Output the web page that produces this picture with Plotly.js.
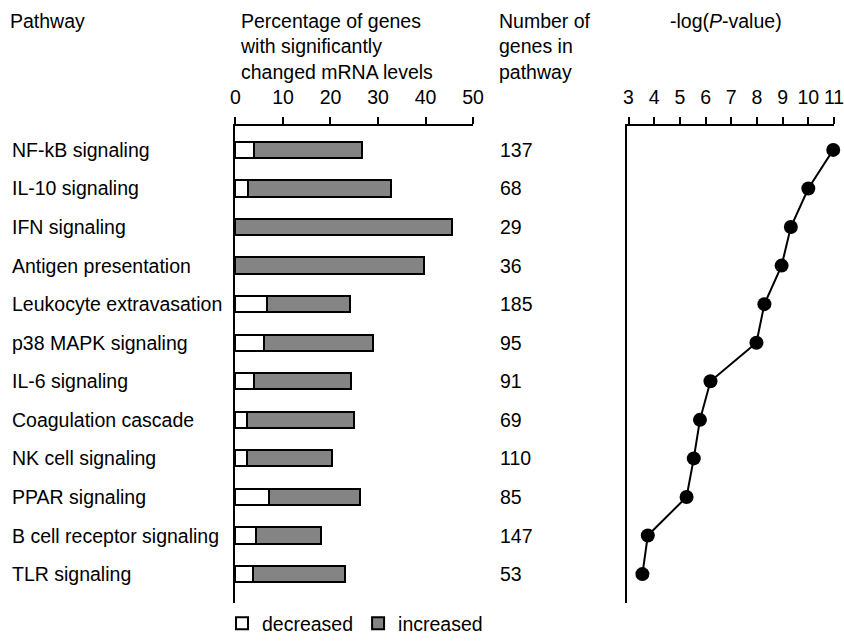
<!DOCTYPE html>
<html>
<head>
<meta charset="utf-8">
<script src="https://cdn.plot.ly/plotly-3.0.1.min.js"></script>
<style>html,body{margin:0;padding:0;background:#fff;}#chart{width:844px;height:643px;}</style>
</head>
<body>
<div id="chart"></div>
<script>
const pathways = ["NF-kB signaling","IL-10 signaling","IFN signaling","Antigen presentation","Leukocyte extravasation","p38 MAPK signaling","IL-6 signaling","Coagulation cascade","NK cell signaling","PPAR signaling","B cell receptor signaling","TLR signaling"];
const decreased = [4.0, 2.6, 0, 0, 6.7, 6.0, 4.0, 2.5, 2.5, 7.0, 4.4, 3.7];
const increased = [22.6, 30.2, 45.6, 39.7, 17.5, 23.0, 20.3, 22.5, 17.8, 19.3, 13.5, 19.3];
const geneCounts = [137, 68, 29, 36, 185, 95, 91, 69, 110, 85, 147, 53];
const negLogP = [10.97, 10.0, 9.32, 8.96, 8.29, 7.98, 6.19, 5.78, 5.54, 5.26, 3.75, 3.54];
const pctTicks = [0, 10, 20, 30, 40, 50];
const pTicks = [3, 4, 5, 6, 7, 8, 9, 10, 11];

const FONT = "Liberation Sans, Arial, Helvetica, sans-serif";
const FS = 19.5;
const W = 844, H = 643;
const px = v => v / W;
const py = v => 1 - v / H;

const traces = [
  {type: "bar", orientation: "h", name: "decreased", y: pathways, x: decreased,
   xaxis: "x", yaxis: "y", width: 0.42,
   marker: {color: "#ffffff", line: {color: "#000", width: 2}}},
  {type: "bar", orientation: "h", name: "increased", y: pathways, x: increased,
   xaxis: "x", yaxis: "y", width: 0.42,
   marker: {color: "#848484", line: {color: "#000", width: 2}}},
  {type: "scatter", mode: "lines+markers", name: "-log(P)", showlegend: false,
   y: pathways, x: negLogP, xaxis: "x2", yaxis: "y2", cliponaxis: false,
   line: {color: "#000", width: 2}, marker: {color: "#000", size: 14}}
];

const annotations = [];
pathways.forEach((p, i) => {
  annotations.push({text: p, x: px(10), xref: "paper", y: p, yref: "y",
    xanchor: "left", yanchor: "middle", showarrow: false, font: {family: FONT, size: FS, color: "#000"}});
  annotations.push({text: String(geneCounts[i]), x: px(498), xref: "paper", y: p, yref: "y",
    xanchor: "left", yanchor: "middle", showarrow: false, font: {family: FONT, size: FS, color: "#000"}});
});
const hdr = (text, x, xanchor, align) => ({text, x: px(x), xref: "paper", y: py(8), yref: "paper",
  xanchor, yanchor: "top", align, showarrow: false, font: {family: FONT, size: FS, color: "#000"}});
annotations.push(hdr("Pathway", 8, "left", "left"));
annotations.push(hdr("Percentage of genes<br>with significantly<br>changed mRNA levels", 238, "left", "left"));
annotations.push(hdr("Number of<br>genes in<br>pathway", 497, "left", "left"));
annotations.push(hdr("-log(<i>P</i>-value)", 726, "center", "center"));

const yTop = 126, yBot = 603;
const axCommon = {showgrid: false, zeroline: false, showline: true, linecolor: "#000", linewidth: 2,
  ticks: "outside", ticklen: 7, tickwidth: 2, tickcolor: "#000", side: "top",
  ticklabelstandoff: 5, ticklabeloverflow: "allow",
  tickfont: {family: FONT, size: FS, color: "#000"}, fixedrange: true};
const yCommon = {type: "category", categoryorder: "array", categoryarray: pathways,
  range: [11.75, -0.62], showgrid: false, zeroline: false, showline: true, linecolor: "#000", linewidth: 2,
  ticks: "", showticklabels: false, domain: [py(yBot), py(yTop)], fixedrange: true};

const layout = {
  width: W, height: H, margin: {l: 0, r: 0, t: 0, b: 0},
  paper_bgcolor: "#fff", plot_bgcolor: "rgba(0,0,0,0)",
  font: {family: FONT, size: FS, color: "#000"},
  barmode: "stack", bargap: 0.58,
  xaxis: Object.assign({}, axCommon, {domain: [px(235), px(473)], range: [-0.1, 50],
    tickvals: pctTicks, ticktext: pctTicks.map(String), anchor: "y"}),
  yaxis: Object.assign({}, yCommon, {anchor: "x"}),
  xaxis2: Object.assign({}, axCommon, {domain: [px(627), px(834)], range: [2.94, 11],
    tickvals: pTicks, ticktext: pTicks.map(String), anchor: "y2"}),
  yaxis2: Object.assign({}, yCommon, {anchor: "x2"}),
  showlegend: true,
  legend: {orientation: "h", x: px(222), xanchor: "left", y: 0, yanchor: "bottom",
    font: {family: FONT, size: FS, color: "#000"}, traceorder: "normal", bgcolor: "rgba(0,0,0,0)"},
  annotations
};

Plotly.newPlot("chart", traces, layout, {staticPlot: true, displayModeBar: false});
</script>
</body>
</html>
